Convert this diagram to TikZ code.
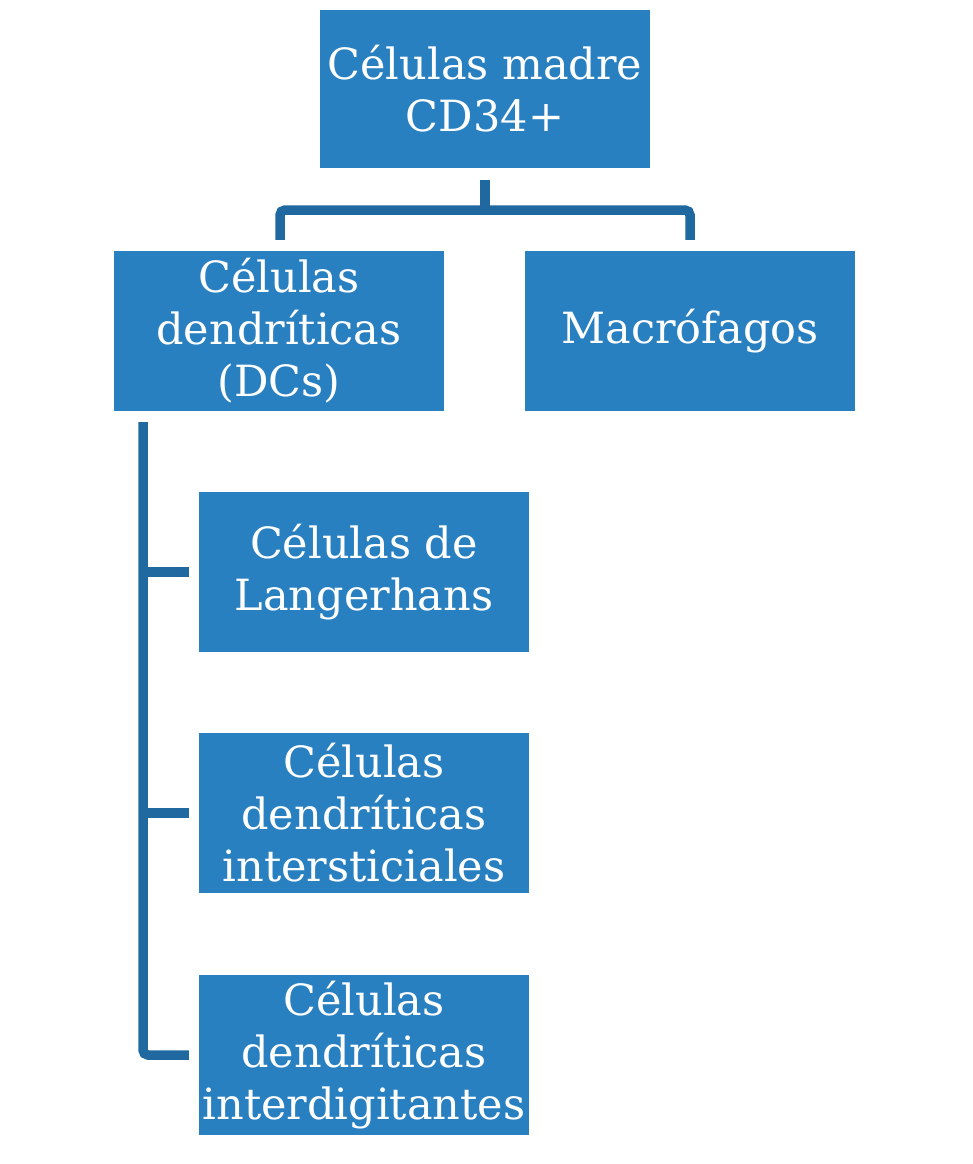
\documentclass[tikz,border=0pt]{standalone}
\usepackage{fontspec}
\setmainfont{DejaVu Serif}
\definecolor{boxblue}{RGB}{41,128,193}
\definecolor{lineblue}{RGB}{31,104,160}
\tikzset{
  cell/.style={fill=boxblue, draw=none, minimum width=330pt, minimum height=160pt, inner sep=0pt,
    text=white, align=center, font=\fontsize{43}{52}\selectfont},
  link/.style={draw=lineblue, line width=9.5pt, rounded corners=5pt},
}
\begin{document}
\begin{tikzpicture}[x=1pt,y=-1pt]
\useasboundingbox (0,0) rectangle (972,1164);
\node[cell, minimum height=158pt] (stem) at (485,89) {Células madre\\CD34+};
\node[cell] (dc) at (279,331) {Células\\dendríticas\\(DCs)};
\node[cell] (mac) at (690,331) {Macrófagos};
\node[cell] (lang) at (364,572) {Células de\\Langerhans};
\node[cell] (inter) at (364,813) {Células\\dendríticas\\intersticiales};
\node[cell] (digit) at (364,1055) {Células\\dendríticas\\interdigitantes};
\coordinate (tj) at (485,210);
\draw[link] ([yshift=-12pt]stem.south) -- (tj);
\draw[link] (tj) -| ([yshift=11pt]dc.north -| 280,0);
\draw[link] (tj) -| ([yshift=11pt]mac.north);
\coordinate (ltop) at (143,422);
\draw[link] (ltop) |- ([xshift=-10pt]digit.west);
\draw[link] (ltop |- lang.west) -- ([xshift=-10pt]lang.west);
\draw[link] (ltop |- inter.west) -- ([xshift=-10pt]inter.west);
\end{tikzpicture}
\end{document}
